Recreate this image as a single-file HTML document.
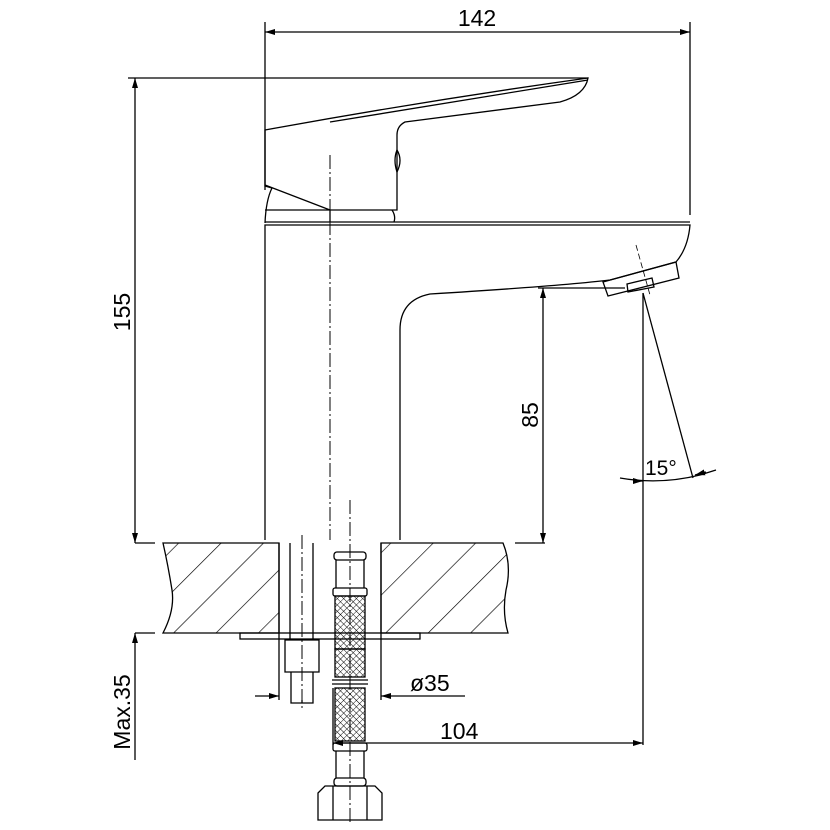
<!DOCTYPE html>
<html><head><style>html,body{margin:0;padding:0;background:#fff}svg{display:block}</style></head><body>
<svg width="830" height="830" viewBox="0 0 830 830" xmlns="http://www.w3.org/2000/svg" fill="none" stroke="#000" stroke-width="1.3" font-family="Liberation Sans, sans-serif">
<defs>
<marker id="a" viewBox="0 0 10 6" refX="10" refY="3" markerWidth="10" markerHeight="6" orient="auto-start-reverse" markerUnits="userSpaceOnUse"><path d="M0,0L10,3L0,6z" fill="#000" stroke="none"/></marker>
<pattern id="h" width="30" height="30" patternUnits="userSpaceOnUse" patternTransform="rotate(45)"><line x1="0" y1="0" x2="0" y2="30" stroke="#000" stroke-width="1.3"/></pattern>
<pattern id="x" width="4.5" height="4.5" patternUnits="userSpaceOnUse" patternTransform="rotate(45)"><path d="M0,0V4.5M0,0H4.5" stroke="#000" stroke-width="0.9"/></pattern>
</defs>
<path d="M163,543 H279 V633 H163 Q175,610 172,590 Q168,565 163,543Z" fill="url(#h)"/>
<path d="M381,543 H503 Q512,565 506,590 Q502,612 508,633 H381Z" fill="url(#h)"/>
<line x1="135" y1="543" x2="155" y2="543"/><line x1="135" y1="633" x2="155" y2="633"/>
<line x1="515" y1="543" x2="545" y2="543"/>
<line x1="279" y1="543" x2="279" y2="633"/><line x1="381" y1="543" x2="381" y2="700"/>
<line x1="279" y1="633" x2="279" y2="700"/>
<rect x="240" y="633" width="180" height="6"/>
<line x1="290" y1="543" x2="290" y2="640"/><line x1="313" y1="543" x2="313" y2="640"/>
<path d="M285,640 H319 V672 H285Z"/><path d="M291,672 V703 H313 V672"/><line x1="302" y1="700" x2="302" y2="703"/>
<line x1="302" y1="535" x2="302" y2="710" stroke-dasharray="14,3,2,3" stroke-width="1"/>
<rect x="334" y="552" width="32" height="8" rx="3"/>
<rect x="333" y="588" width="34" height="8" rx="2"/>
<line x1="336" y1="560" x2="336" y2="588"/><line x1="364" y1="560" x2="364" y2="588"/>
<rect x="335" y="596" width="30" height="53" fill="url(#x)"/>
<rect x="335" y="649" width="30" height="28" fill="url(#x)"/>
<line x1="332" y1="680" x2="368" y2="680"/><line x1="332" y1="684" x2="368" y2="684"/>
<rect x="335" y="688" width="30" height="53" fill="url(#x)"/>
<line x1="333" y1="688" x2="333" y2="745"/>
<rect x="333" y="743" width="34" height="8" rx="2"/>
<line x1="336" y1="751" x2="336" y2="778"/><line x1="364" y1="751" x2="364" y2="778"/>
<rect x="334" y="778" width="32" height="8" rx="3"/>
<path d="M318,793 L325,786 H375 L382,793 V820 H318Z"/>
<line x1="333" y1="786" x2="333" y2="820"/><line x1="367" y1="786" x2="367" y2="820"/>
<line x1="350" y1="500" x2="350" y2="825" stroke-dasharray="14,3,2,3" stroke-width="1"/>
<path d="M265,540 V225 H690 Q688,248 676,262 L610,280 Q560,286 430,294 Q400,300 400,330 V540"/>
<line x1="265" y1="222" x2="690" y2="222"/>
<path d="M603,282 L676,262 L679,278 L608,296Z"/>
<path d="M627,284 L652,278 L654,287 L628,292Z"/>
<path d="M265,223 Q266,200 272,188 L265,186 V130 Q430,100 588,78 Q585,95 560,102 L405,122 Q397,126 397,135 V210 H265"/>
<path d="M265,185 L330,210"/><path d="M330,210 V222 M392,210 Q396,216 394,222"/>
<path d="M330,122 L588,80"/>
<path d="M397,150 Q403,160 397,172 Q393,160 397,150Z"/>
<line x1="330" y1="155" x2="330" y2="540" stroke-dasharray="14,3,2,3" stroke-width="1"/>
<line x1="265" y1="22" x2="265" y2="190"/><line x1="690" y1="22" x2="690" y2="215"/>
<line x1="265" y1="32" x2="690" y2="32" marker-start="url(#a)" marker-end="url(#a)"/>
<text x="477" y="26" font-size="23" fill="#000" stroke="none" text-anchor="middle">142</text>
<line x1="128" y1="78" x2="588" y2="78"/>
<line x1="135" y1="78" x2="135" y2="543" marker-start="url(#a)" marker-end="url(#a)"/>
<text transform="translate(130,312) rotate(-90)" font-size="23" fill="#000" stroke="none" text-anchor="middle">155</text>
<line x1="135" y1="633" x2="135" y2="760" marker-start="url(#a)"/>
<text transform="translate(130,712) rotate(-90)" font-size="23" fill="#000" stroke="none" text-anchor="middle">Max.35</text>
<line x1="538" y1="288" x2="625" y2="288"/>
<line x1="543" y1="288" x2="543" y2="543" marker-start="url(#a)" marker-end="url(#a)"/>
<text transform="translate(538,415) rotate(-90)" font-size="23" fill="#000" stroke="none" text-anchor="middle">85</text>
<line x1="643" y1="293" x2="643" y2="745"/>
<line x1="643" y1="293" x2="693" y2="478"/>
<line x1="636" y1="245" x2="650" y2="295" stroke-dasharray="6,3" stroke-width="0.8"/>
<path d="M620,478 Q660,485 700,475 L716,470" />
<path d="M633,481 L643,481" marker-end="url(#a)"/><path d="M706,472 L695,475" marker-end="url(#a)"/>
<text x="645" y="475" font-size="21" fill="#000" stroke="none">15°</text>
<line x1="255" y1="696" x2="279" y2="696" marker-end="url(#a)"/>
<line x1="465" y1="696" x2="381" y2="696" marker-end="url(#a)"/>
<text x="410" y="691" font-size="23" fill="#000" stroke="none">ø35</text>
<line x1="333" y1="743" x2="643" y2="743" marker-start="url(#a)" marker-end="url(#a)"/>
<text x="440" y="739" font-size="23" fill="#000" stroke="none">104</text>
</svg>
</body></html>
